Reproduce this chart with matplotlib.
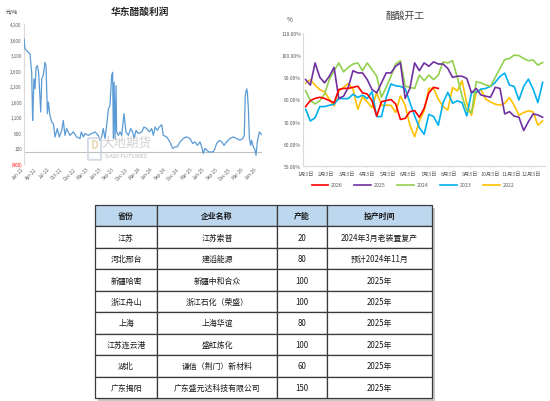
import matplotlib
matplotlib.use('Agg')
import matplotlib.pyplot as plt
from matplotlib.patches import Rectangle, FancyBboxPatch
import pandas as pd
import numpy as np

plt.rcParams['font.family'] = ['Noto Sans CJK SC', 'DejaVu Sans']

# ---------------- data: 华东醋酸利润 (元/吨) ----------------
profit_dates = [
    '2022-01-01', '2022-01-08', '2022-02-01', '2022-02-12', '2022-02-24', '2022-03-03', '2022-03-08',
    '2022-03-12', '2022-03-20', '2022-03-27', '2022-04-05', '2022-04-14', '2022-04-29', '2022-05-06',
    '2022-05-17', '2022-05-29', '2022-06-05', '2022-06-15', '2022-06-22', '2022-07-03', '2022-07-15',
    '2022-07-27', '2022-08-08', '2022-08-24', '2022-09-07', '2022-09-24', '2022-10-05', '2022-10-17',
    '2022-10-29', '2022-11-21', '2022-12-15', '2023-01-07', '2023-01-31', '2023-02-09', '2023-02-23',
    '2023-03-07', '2023-03-31', '2023-04-23', '2023-05-17', '2023-06-09', '2023-06-21', '2023-07-03',
    '2023-07-14', '2023-07-26', '2023-08-07', '2023-08-19', '2023-08-30', '2023-09-11', '2023-09-18',
    '2023-09-23', '2023-09-28', '2023-10-05', '2023-10-12', '2023-10-16', '2023-10-28', '2023-11-09',
    '2023-11-21', '2023-12-07', '2023-12-21', '2024-01-07', '2024-01-23', '2024-02-06', '2024-02-16',
    '2024-03-01', '2024-03-17', '2024-04-10', '2024-04-26', '2024-05-15', '2024-06-03', '2024-06-19',
    '2024-07-01', '2024-07-13', '2024-07-29', '2024-08-12', '2024-08-29', '2024-09-09', '2024-10-03',
    '2024-10-26', '2024-11-14', '2024-12-01', '2024-12-17', '2025-01-05', '2025-01-28', '2025-02-21',
    '2025-03-16', '2025-04-04', '2025-04-21', '2025-05-07', '2025-05-26', '2025-06-07', '2025-06-18',
    '2025-06-30', '2025-07-12', '2025-07-24', '2025-08-04', '2025-08-28', '2025-09-09', '2025-09-20',
    '2025-10-09', '2025-10-26', '2025-11-11', '2025-11-30', '2025-12-23', '2026-01-16', '2026-02-08',
    '2026-03-04', '2026-03-23', '2026-04-03', '2026-04-10', '2026-04-20', '2026-04-25', '2026-05-02',
    '2026-05-09', '2026-05-18', '2026-05-25', '2026-06-06', '2026-06-18', '2026-06-25', '2026-07-04',
    '2026-07-18', '2026-07-28', '2026-08-04']
profit_values = [
    3620, 3300, 3190, 3140, 2550, 1000, 1700,
    2340, 2020, 2710, 2760, 2550, 1270, 2340,
    2450, 2870, 2760, 1220, 1590, 1160, 950,
    900, 470, 740, 470, 680, 1000, 520,
    740, 520, 630, 470, 420, 630, 470,
    580, 520, 580, 630, 520, 360, 470,
    740, 420, 840, 1370, 1480, 2450, 2550,
    420, 2230, 420, 2120, 630, 520, 630,
    520, 1220, 630, 520, 740, 630, 420,
    680, 580, 630, 790, 740, 630, 740,
    520, 790, 680, 790, 860, 520, 470,
    310, 100, 150, 150, 310, 420, 470,
    420, 260, 310, 200, 310, 150, -60,
    100, 50, 0, -20, 0, 100, 260,
    360, 310, 200, 310, 420, 470, 420,
    360, 420, 520, 1800, 2020, 1900, 1370,
    420, 200, 360, 150, 50, -120, 310,
    630, 580, 550]
profit_yticks = [-400, 100, 600, 1100, 1600, 2100, 2600, 3100, 3600, 4100]
profit_xlabels = ['Jan-22', 'Apr-22', 'Jul-22', 'Oct-22', 'Dec-22', 'Mar-23', 'Jun-23', 'Sep-23',
                  'Dec-23', 'Mar-24', 'Jun-24', 'Sep-24', 'Dec-24', 'Mar-25', 'Jun-25', 'Sep-25',
                  'Dec-25', 'Mar-26', 'Jun-26']

# ---------------- data: 醋酸开工 (%) , weekly ----------------
month_labels = ['1月3日', '2月3日', '3月3日', '4月3日', '5月3日', '6月3日',
                '7月3日', '8月3日', '9月3日', '10月3日', '11月3日', '12月3日']
run_2026 = [76.8, 79.5, 80.5, 81, 80.5, 79.5, 78.5, 84.5, 85, 85, 85.5, 86, 83, 82.5, 79.5,
            72.5, 79, 79.5, 80, 78, 71, 71.5, 74.5, 75, 72, 76, 83, 85.5, 85]
run_2025 = [89, 86.5, 96.5, 90, 87.5, 90.5, 94.5, 80.5, 81.5, 85.5, 93, 92, 92, 89, 84.5, 83,
            87.5, 92, 92, 95, 96.5, 80.5, 85, 96.5, 93, 96.5, 95, 97, 96, 96, 94, 90, 90.5, 90.5,
            89.5, 83, 85, 82, 81.5, 81, 85.5, 85, 73.5, 74.5, 72.5, 72, 66, 70, 73.5, 73, 72]
run_2024 = [84, 79.5, 78, 79.5, 82.5, 89, 93, 96.5, 92.5, 94.5, 96, 96.5, 93, 96.5, 93.5, 90.5,
            81, 85.5, 90.5, 96, 97.5, 86, 85.5, 85, 91, 88.5, 91, 89, 91, 97, 96.5, 97.5, 90, 81.5,
            75, 74, 88, 87.5, 86.5, 86, 90, 94, 98, 98.5, 100, 99.8, 98.5, 97.5, 97.8, 95.5, 96.7]
run_2023 = [75.6, 70.3, 71.8, 76.8, 76.8, 77.4, 77.9, 80.4, 80.4, 80.4, 82.4, 80.9, 82, 80.4,
            83.5, 72.3, 72.3, 80.9, 87, 86.2, 85.9, 85, 78.6, 72.6, 67.3, 64.3, 73.3, 72.3, 68.4,
            78.6, 83.2, 78.3, 79.4, 78.6, 72.6, 83.2, 83.2, 84.7, 85, 85.9, 87.7, 90.4, 91.9, 86.5,
            85.9, 79.8, 85.9, 89.2, 84.7, 78.6, 87.7]
run_2022 = [87.4, 88.9, 86.5, 84.4, 83.5, 80.1, 77.1, 83.9, 85.4, 87.2, 84.7, 75.6, 81.3, 78.9,
            76.4, 83.2, 77.4, 77.4, 77.4, 74.1, 81.6, 77.4, 68.4, 63.2, 70.3, 74.9, 85, 85, 80.1,
            76.8, 75.2, 85.4, 83.9, 88.4, 78.3, 72.9, 83.2, 84.4, 80.1, 78.9, 77.9, 77.4, 78.3,
            80.9, 77.4, 72.9, 74.1, 74.9, 74.4, 68.4, 70.3]
run_series = [('2026', run_2026, '#FF0000'), ('2025', run_2025, '#7030A0'),
              ('2024', run_2024, '#92D050'), ('2023', run_2023, '#00B0F0'),
              ('2022', run_2022, '#FFC000')]

# ---------------- data: table ----------------
table_header = ['省份', '企业名称', '产能', '投产时间']
table_province = ['江苏', '河北邢台', '新疆哈密', '浙江舟山', '上海', '江苏连云港', '湖北', '广东揭阳']
table_company = ['江苏索普', '建滔能源', '新疆中和合众', '浙江石化（荣盛）', '上海华谊', '盛虹炼化',
                 '谦信（荆门）新材料', '广东盛元达科技有限公司']
table_capacity = ['20', '80', '100', '100', '80', '100', '60', '150']
table_time = ['2024年3月老装置复产', '预计2024年11月', '2025年', '2025年', '2025年', '2025年',
              '2025年', '2025年']

W, H = 550, 402
fig = plt.figure(figsize=(W / 100, H / 100), dpi=100)
fig.patch.set_facecolor('white')


def fx(px):
    return px / W


def fy(py):
    return 1 - py / H


# ---------------- left chart ----------------
ax1 = fig.add_axes([fx(24), fy(165), fx(262 - 24), (165 - 25) / H])
dates = pd.to_datetime(profit_dates)
ax1.plot(dates, profit_values, color='#5B9BD5', lw=0.9, zorder=3)
ax1.axhline(0, color='#BFBFBF', lw=0.8, zorder=2)
ax1.set_ylim(-400, 4100)
start = pd.Timestamp('2022-01-01')
ax1.set_xlim(start, start + pd.Timedelta(days=1678))
ax1.set_yticks(profit_yticks)
ylabs = ['({:,})'.format(-v) if v < 0 else '{:,}'.format(v) for v in profit_yticks]
ax1.set_yticklabels(ylabs, fontsize=3.3, color='#595959')
ax1.get_yticklabels()[0].set_color('#FF0000')
tick_dates = [start + pd.Timedelta(days=7 + 91.2 * k) for k in range(len(profit_xlabels))]
ax1.set_xticks(tick_dates)
ax1.set_xticklabels(profit_xlabels, rotation=45, ha='right', fontsize=3.3, color='#595959')
ax1.tick_params(axis='both', length=0, pad=1.5)
for s in ['top', 'right', 'bottom']:
    ax1.spines[s].set_visible(False)
ax1.spines['left'].set_color('#D9D9D9')
ax1.spines['left'].set_linewidth(0.8)
fig.text(fx(140), fy(12), '华东醋酸利润', fontsize=7, fontweight='bold', ha='center', va='center',
         color='#262626')
fig.text(fx(12), fy(12), '元/吨', fontsize=3.6, ha='center', va='center', color='#404040')

# watermark
fig.patches.append(FancyBboxPatch((fx(89), fy(160)), fx(11), 20 / H, boxstyle='round,pad=0.002',
                                  transform=fig.transFigure, fc='none', ec='#CBD3E0', lw=1.4,
                                  alpha=0.8, zorder=5))
fig.text(fx(94.5), fy(146), 'D', fontsize=8, ha='center', va='center', color='#E3CFA6',
         alpha=0.8, fontweight='bold', zorder=6)
fig.text(fx(126), fy(143), '大地期货', fontsize=9, ha='center', va='center', color='#C8C8C8',
         alpha=0.85, zorder=6)
fig.text(fx(126), fy(157), 'DADI FUTURES', fontsize=4.2, ha='center', va='center',
         color='#C8C8C8', fontweight='bold', alpha=0.85, zorder=6)

# ---------------- right chart ----------------
ax2 = fig.add_axes([fx(303), fy(167), fx(545 - 303), (167 - 34) / H])
weeks_per_month = 4.33
handles = []
for name, vals, col in run_series[::-1]:
    ln, = ax2.plot(np.arange(len(vals)), vals, color=col, lw=1.2, label=name)
    handles.append(ln)
handles = handles[::-1]
ax2.set_xlim(-0.55, 50.5)
ax2.set_ylim(50, 110)
ax2.set_yticks(range(50, 111, 10))
ax2.set_yticklabels(['{:.2f}%'.format(v) for v in range(50, 111, 10)], fontsize=3.6,
                    color='#595959')
ax2.set_xticks([m * weeks_per_month for m in range(12)])
ax2.set_xticklabels(month_labels, fontsize=3.8, color='#595959')
ax2.tick_params(axis='y', length=0, pad=1.5)
ax2.tick_params(axis='x', length=1.5, width=0.5, color='#D9D9D9', pad=2)
for s in ['top', 'right']:
    ax2.spines[s].set_visible(False)
for s in ['left', 'bottom']:
    ax2.spines[s].set_color('#D9D9D9')
    ax2.spines[s].set_linewidth(0.8)
fig.text(fx(405), fy(16), '醋酸开工', fontsize=7, ha='center', va='center', color='#404040')
fig.text(fx(290), fy(20), '%', fontsize=4.5, ha='center', va='center', color='#404040')
fig.legend(handles=handles, loc='center', bbox_to_anchor=(fx(413), fy(186)), ncol=5,
           frameon=False, fontsize=3.8, handlelength=3.2, handletextpad=0.5, columnspacing=2.2,
           labelcolor='#595959')

# ---------------- table ----------------
tx0, tx1, ty0, ty1 = 95, 432, 206, 399
ax_sh = fig.add_axes([fx(tx0 + 3), fy(ty1 + 3), fx(tx1 - tx0), (ty1 - ty0) / H])
ax_sh.set_zorder(0)
ax_sh.axis('off')
ax_sh.add_patch(Rectangle((0, 0), 1, 1, transform=ax_sh.transAxes, fc='#C8C8C8', ec='none',
                          clip_on=False))
ax3 = fig.add_axes([fx(tx0), fy(ty1), fx(tx1 - tx0), (ty1 - ty0) / H])
ax3.set_zorder(2)
ax3.axis('off')
rows = [list(r) for r in zip(table_province, table_company, table_capacity, table_time)]
col_w = np.array([62, 120, 50, 105], dtype=float)
tbl = ax3.table(cellText=rows, colLabels=table_header, bbox=[0, 0, 1, 1],
                colWidths=list(col_w / col_w.sum()), cellLoc='center')
tbl.auto_set_font_size(False)
for (r, c), cell in tbl.get_celld().items():
    cell.set_edgecolor('#3A3A3A')
    cell.set_linewidth(0.9)
    cell.get_text().set_fontsize(5.7)
    cell.get_text().set_color('#1A1A1A')
    if r == 0:
        cell.set_facecolor('#BDD7EE')
        cell.get_text().set_fontweight('bold')
    else:
        cell.set_facecolor('white')

fig.savefig('out.png', dpi=100)
